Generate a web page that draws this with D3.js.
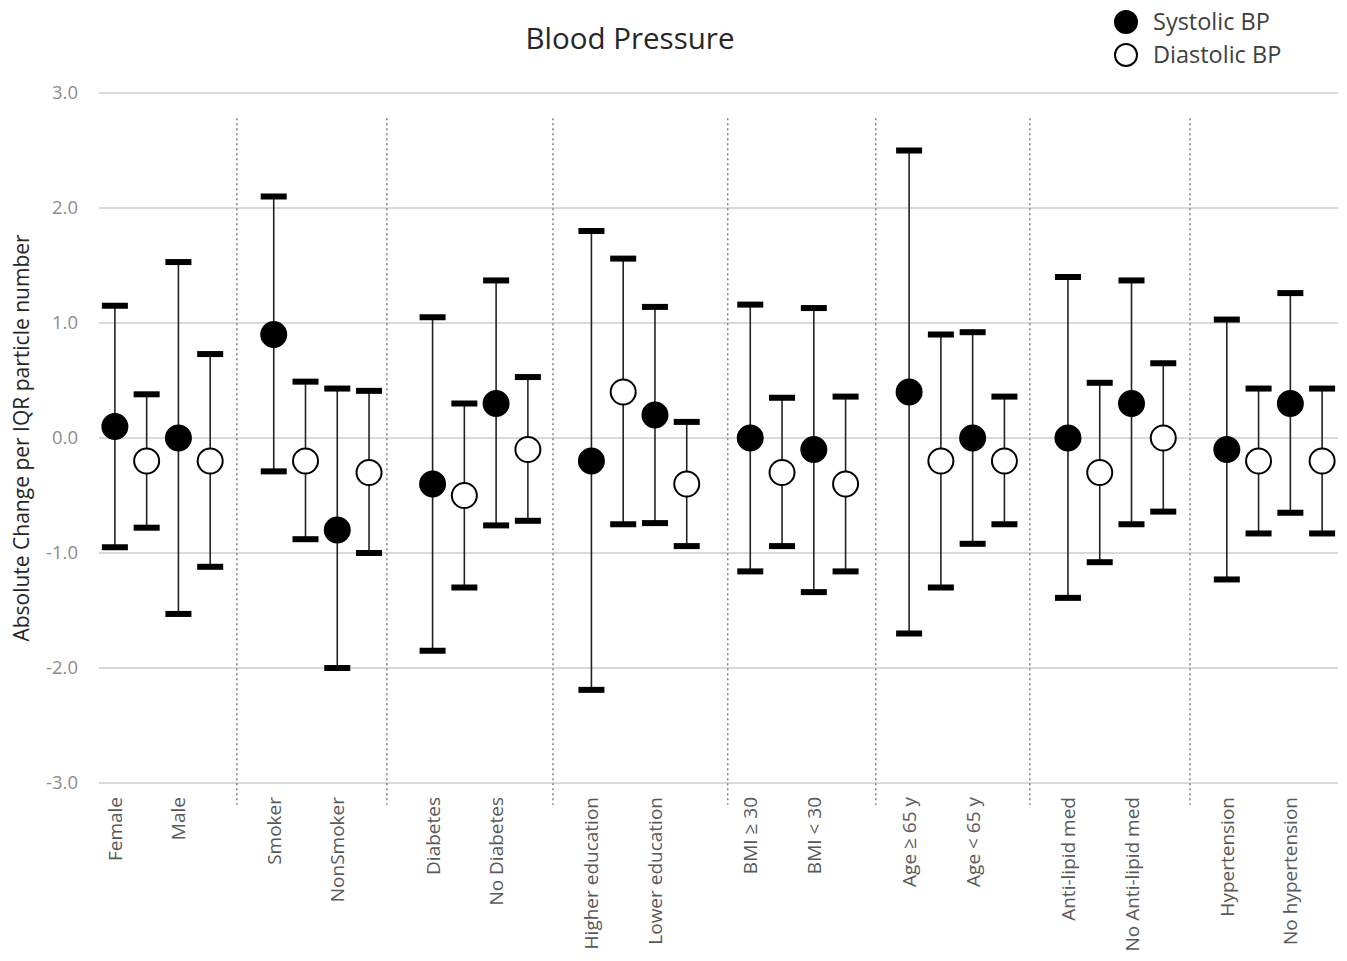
<!DOCTYPE html>
<html><head><meta charset="utf-8">
<script src="https://cdn.jsdelivr.net/npm/d3@7"></script>
<style>body{margin:0;background:#fff}svg{display:block}text{font-family:"Open Sans","Noto Sans",sans-serif}</style>
</head><body>
<svg id="c" width="1347" height="961"></svg>
<script>
const categories = ["Female","Male","Smoker","NonSmoker","Diabetes","No Diabetes","Higher education","Lower education","BMI \u2265 30","BMI < 30","Age \u2265 65 y","Age < 65 y","Anti-lipid med","No Anti-lipid med","Hypertension","No hypertension"];
const sysMean = [0.1,0.0,0.9,-0.8,-0.4,0.3,-0.2,0.2,0.0,-0.1,0.4,0.0,0.0,0.3,-0.1,0.3];
const sysLow  = [-0.95,-1.53,-0.29,-2.0,-1.85,-0.76,-2.19,-0.74,-1.16,-1.34,-1.7,-0.92,-1.39,-0.75,-1.23,-0.65];
const sysHigh = [1.15,1.53,2.1,0.43,1.05,1.37,1.8,1.14,1.16,1.13,2.5,0.92,1.4,1.37,1.03,1.26];
const diaMean = [-0.2,-0.2,-0.2,-0.3,-0.5,-0.1,0.4,-0.4,-0.3,-0.4,-0.2,-0.2,-0.3,0.0,-0.2,-0.2];
const diaLow  = [-0.78,-1.12,-0.88,-1.0,-1.3,-0.72,-0.75,-0.94,-0.94,-1.16,-1.3,-0.75,-1.08,-0.64,-0.83,-0.83];
const diaHigh = [0.38,0.73,0.49,0.41,0.3,0.53,1.56,0.14,0.35,0.36,0.9,0.36,0.48,0.65,0.43,0.43];
const yTicks = [3,2,1,0,-1,-2,-3];
const separators = [3.84,8.56,13.79,19.29,23.95,28.8,33.84];
const seriesNames = ["Systolic BP","Diastolic BP"];

const svg = d3.select("#c");
const M = {l:99, r:1338, t:93, b:783};
const x = d3.scaleLinear().domain([-0.5,38.5]).range([M.l,M.r]);
const y = d3.scaleLinear().domain([-3,3]).range([M.b,M.t]);

const slot = i => Math.floor(i/2)*5 + (i%2)*2;
const pts = [];
categories.forEach((c,i)=>{
  pts.push({s:slot(i), m:sysMean[i], lo:sysLow[i], hi:sysHigh[i], filled:true});
  pts.push({s:slot(i)+1, m:diaMean[i], lo:diaLow[i], hi:diaHigh[i], filled:false});
});

// gridlines
svg.append("g").selectAll("line").data(yTicks).join("line")
  .attr("x1",M.l).attr("x2",M.r).attr("y1",d=>y(d)).attr("y2",d=>y(d))
  .attr("stroke","#d9d9d9").attr("stroke-width",2);
// tick labels
svg.append("g").selectAll("text").data(yTicks).join("text")
  .attr("x",78).attr("y",d=>y(d)).attr("dy","0.35em").attr("text-anchor","end")
  .attr("fill","#8c8c8c").attr("font-size",18.5).text(d=>d3.format(".1f")(d).replace("\u2212","-"));

// separators
svg.append("g").selectAll("line").data(separators).join("line")
  .attr("x1",d=>x(d)).attr("x2",d=>x(d)).attr("y1",y(2.78)).attr("y2",y(-3.19))
  .attr("stroke","#7f7f7f").attr("stroke-width",1.5).attr("stroke-dasharray","2,3");

// error bars
const g = svg.append("g");
g.selectAll("line.v").data(pts).join("line").attr("class","v")
  .attr("x1",d=>x(d.s)).attr("x2",d=>x(d.s)).attr("y1",d=>y(d.lo)).attr("y2",d=>y(d.hi))
  .attr("stroke","#222").attr("stroke-width",1.6);
const capW = 26;
["lo","hi"].forEach(k=>{
  g.selectAll("rect."+k).data(pts).join("rect").attr("class",k)
    .attr("x",d=>x(d.s)-capW/2).attr("y",d=>y(d[k])-3).attr("width",capW).attr("height",6)
    .attr("fill","#000");
});
g.selectAll("circle").data(pts).join("circle")
  .attr("cx",d=>x(d.s)).attr("cy",d=>y(d.m)).attr("r",12.5)
  .attr("fill",d=>d.filled?"#000":"#fff").attr("stroke","#000").attr("stroke-width",2);

// category labels
svg.append("g").selectAll("text").data(categories).join("text")
  .attr("transform",(d,i)=>`translate(${x(slot(i))+7},797) rotate(-90)`)
  .attr("text-anchor","end").attr("fill","#595959").attr("font-size",19).text(d=>d);

// title
svg.append("text").attr("x",630).attr("y",49).attr("text-anchor","middle")
  .attr("font-size",29.5).attr("fill","#262626").text("Blood Pressure");
// y title
svg.append("text").attr("transform","translate(29,438) rotate(-90)").attr("text-anchor","middle")
  .attr("font-size",21).attr("fill","#262626").text("Absolute Change per IQR particle number");

// legend
const lg = svg.append("g").selectAll("g").data(seriesNames).join("g")
  .attr("transform",(d,i)=>`translate(1126,${22+i*33})`);
lg.append("circle").attr("r",11).attr("fill",(d,i)=>i===0?"#000":"#fff").attr("stroke","#000").attr("stroke-width",2);
lg.append("text").attr("x",27).attr("dy","0.35em").attr("font-size",23.5).attr("fill","#404040").text(d=>d);
</script>
</body></html>
